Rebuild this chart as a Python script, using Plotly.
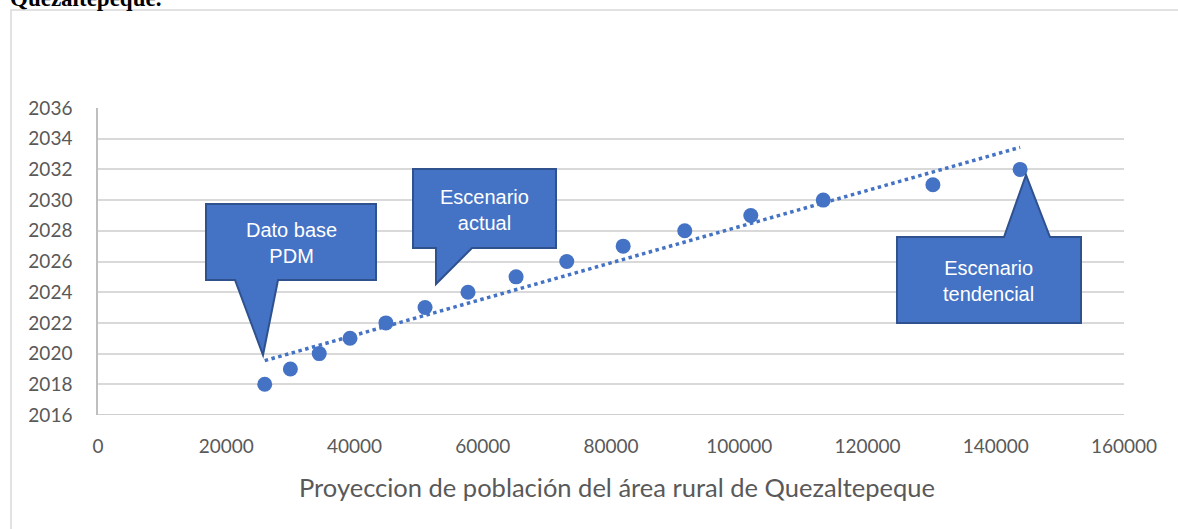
import numpy as np
import plotly.graph_objects as go

# Data
poblacion = [26000, 30000, 34500, 39300, 44900, 51000, 57700, 65200, 73100,
             81900, 91500, 101800, 113100, 130200, 143800]
anios = [2018, 2019, 2020, 2021, 2022, 2023, 2024, 2025, 2026,
         2027, 2028, 2029, 2030, 2031, 2032]
x_ticks = [0, 20000, 40000, 60000, 80000, 100000, 120000, 140000, 160000]
y_ticks = list(range(2016, 2037, 2))
x_title = "Proyeccion de población del área rural de Quezaltepeque"
callout_texts = ["Dato base<br>PDM", "Escenario<br>actual", "Escenario<br>tendencial"]

W, H = 1178, 529
ML, MR, MT, MB = 98, 54, 108, 114
PW, PH = W - ML - MR, H - MT - MB


def px(x, y):
    return (x - ML) / PW, (H - MB - y) / PH


def path(points, close=True):
    s = ""
    for i, (x, y) in enumerate(points):
        a, b = px(x, y)
        s += ("M" if i == 0 else "L") + f"{a:.5f},{b:.5f} "
    return s + ("Z" if close else "")


BLUE = "#4472C4"
DARK = "#2F528F"

# linear trendline (least squares)
coef = np.polyfit(poblacion, anios, 1)
tx = np.array([min(poblacion), max(poblacion)])
ty = np.polyval(coef, tx)

fig = go.Figure()
fig.add_trace(go.Scatter(x=tx, y=ty, mode="lines",
                         line=dict(color=BLUE, width=3.5, dash="dot"),
                         hoverinfo="skip", showlegend=False))
fig.add_trace(go.Scatter(x=poblacion, y=anios, mode="markers",
                         marker=dict(color=BLUE, size=15), showlegend=False))

shapes = []
# outer chart border
shapes.append(dict(type="path", xref="paper", yref="paper",
                   path=path([(11, 540), (11, 10), (1190, 10)], close=False),
                   line=dict(color="#D9D9D9", width=1.5)))

callouts = [
    ([(206, 204), (376, 204), (376, 280), (278, 280), (263, 355), (235, 280), (206, 280)], (291, 243)),
    ([(413, 169), (556, 169), (556, 248), (472, 248), (436, 284), (436, 248), (413, 248)], (484, 210)),
    ([(897, 237), (1004, 237), (1026, 175), (1050, 237), (1081, 237), (1081, 323), (897, 323)], (988, 281)),
]
annotations = []
for (pts, (cx, cy)), txt in zip(callouts, callout_texts):
    shapes.append(dict(type="path", xref="paper", yref="paper", path=path(pts),
                       fillcolor=BLUE, line=dict(color=DARK, width=2)))
    a, b = px(cx, cy)
    annotations.append(dict(x=a, y=b, xref="paper", yref="paper", text=txt,
                            showarrow=False, xanchor="center", yanchor="middle",
                            font=dict(family="Liberation Sans, Arial", size=20, color="white")))

a, b = px(8, 13)
annotations.append(dict(x=a, y=b, xref="paper", yref="paper", text="<b>Quezaltepeque.</b>",
                        showarrow=False, xanchor="left", yanchor="bottom",
                        font=dict(family="Liberation Serif, Times New Roman", size=23, color="black")))

a, b = px(617, 487)
annotations.append(dict(x=a, y=b, xref="paper", yref="paper", text=x_title,
                        showarrow=False, xanchor="center", yanchor="middle",
                        font=dict(family="Lato", size=25.5, color="#595959")))

fig.update_layout(
    width=W, height=H,
    margin=dict(l=ML, r=MR, t=MT, b=MB),
    paper_bgcolor="white", plot_bgcolor="white",
    shapes=shapes, annotations=annotations,
    xaxis=dict(range=[0, 160000], tickvals=x_ticks, ticktext=[str(v) for v in x_ticks],
               showgrid=False, zeroline=False, showline=False, ticks="",
               ticklabelstandoff=18,
               tickfont=dict(family="Lato", size=19, color="#595959")),
    yaxis=dict(range=[2016, 2036], tickvals=y_ticks, ticktext=[str(v) for v in y_ticks],
               showgrid=True, gridcolor="#D9D9D9", gridwidth=1.5,
               zeroline=False, showline=True, linecolor="#BFBFBF", linewidth=1.5,
               ticks="", ticklabelstandoff=20,
               tickfont=dict(family="Lato", size=19, color="#595959")),
)
fig.add_hline(y=2016, line=dict(color="#BFBFBF", width=1.5))

fig.write_html("out.html", config={"displayModeBar": False},
               post_script="document.body.style.margin='0px';")
